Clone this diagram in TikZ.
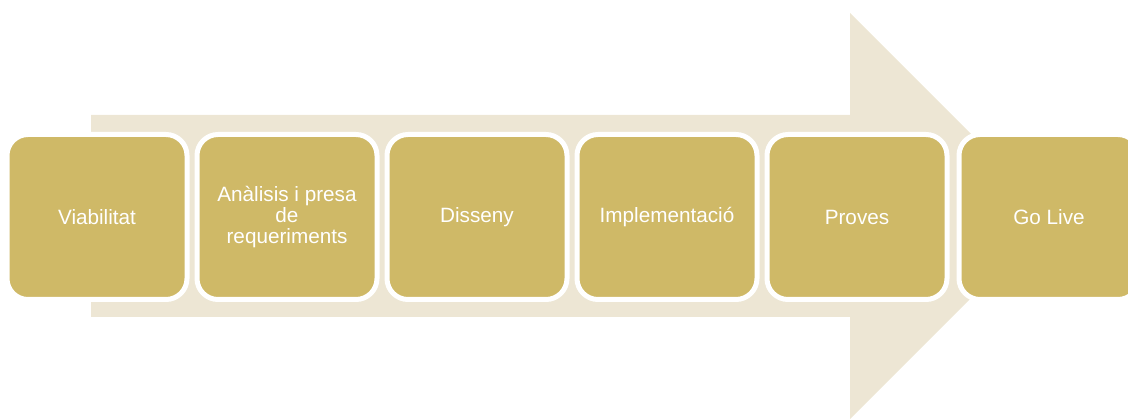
\documentclass[tikz,border=0pt]{standalone}
\usepackage{fontspec}
\setmainfont{Liberation Sans}
\definecolor{gold}{RGB}{207,185,103}
\definecolor{arrowbg}{RGB}{237,230,212}
\begin{document}
\begin{tikzpicture}[x=1pt,y=-1pt,
  stage/.style={rectangle, rounded corners=21pt, fill=gold, draw=white, line width=5pt,
    minimum width=180pt, minimum height=165pt, align=center, text=white,
    font=\fontsize{20.7}{21}\selectfont, inner sep=0pt}]
\useasboundingbox (0,0) rectangle (1128,419);
\fill[arrowbg] (91,115) -- (850,115) -- (850,13) -- (1053,216) -- (850,419) -- (850,317) -- (91,317) -- cycle;
\node[stage] (s1) at (97,217) {Viabilitat};
\node[stage] (s2) at (287,217) {Anàlisis i presa\\de\\requeriments};
\node[stage] (s3) at (477,217) {Disseny};
\node[stage] (s4) at (667,217) {Implementació};
\node[stage] (s5) at (857,217) {Proves};
\node[stage] (s6) at (1049,217) {Go Live};
\end{tikzpicture}
\end{document}
